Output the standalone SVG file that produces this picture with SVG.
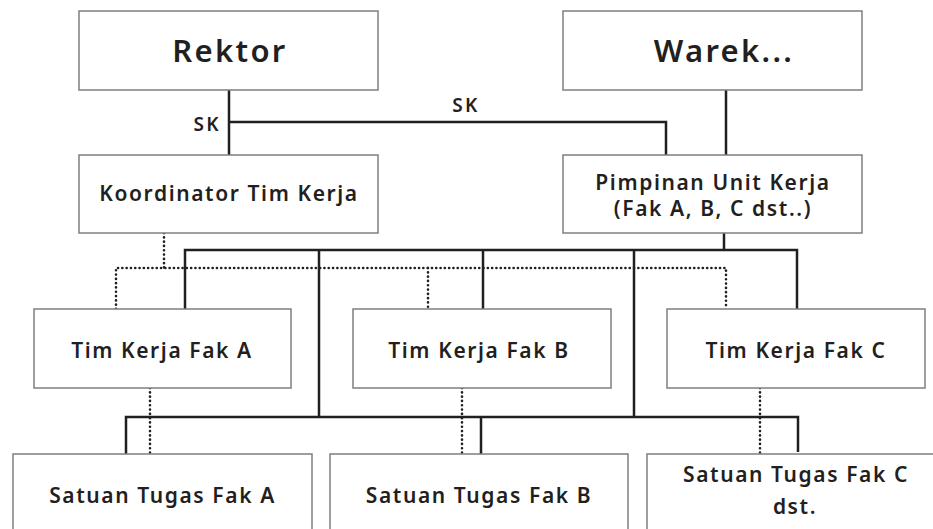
<svg xmlns="http://www.w3.org/2000/svg" width="933" height="529" viewBox="0 0 933 529">
<style>
.box{fill:#fff;stroke:#7f7f7f;stroke-width:1.5}
.t{font-family:"Noto Sans","Liberation Sans",sans-serif;font-weight:600;fill:#231f20;text-anchor:middle}
.big{font-size:31px;letter-spacing:2.3px}
.med{font-size:21px;letter-spacing:1.6px}
.sk{font-size:19px;letter-spacing:2.4px}
.solid{fill:none;stroke:#231f20;stroke-width:2.5}
.dot{fill:none;stroke:#231f20;stroke-width:2.6;stroke-dasharray:0.1 4.2;stroke-linecap:round}
</style>
<rect width="933" height="529" fill="#fff"/>
<g id="connectors">
<path class="solid" d="M229 90V155M229 122H666V155M726 90V155M724 233V250M185 309V250H797V309M319 250V417M483 250V309M634 250V417M126 454V417H798V452M481 417V454"/>
<path class="dot" d="M164 233V268M116 309V268H726V309M428 268V309M150 388V454M462 388V454M760 388V454"/>
<text class="t sk" x="221" y="131" style="text-anchor:end">SK</text>
<text class="t sk" x="466" y="112">SK</text>
</g>
<g id="rektor"><rect class="box" x="79" y="11" width="299" height="79"/><text class="t big" x="230" y="62">Rektor</text></g>
<g id="warek"><rect class="box" x="563" y="11" width="299" height="79"/><text class="t big" x="724" y="62">Warek...</text></g>
<g id="koordinator"><rect class="box" x="79" y="155" width="299" height="78"/><text class="t med" x="229" y="201">Koordinator Tim Kerja</text></g>
<g id="pimpinan"><rect class="box" x="563" y="155" width="299" height="78"/><text class="t med" x="713" y="190">Pimpinan Unit Kerja</text><text class="t med" x="713" y="216">(Fak A, B, C dst..)</text></g>
<g id="timA"><rect class="box" x="34" y="309" width="257" height="79"/><text class="t med" x="162" y="358">Tim Kerja Fak A</text></g>
<g id="timB"><rect class="box" x="353" y="309" width="258" height="79"/><text class="t med" x="479" y="358">Tim Kerja Fak B</text></g>
<g id="timC"><rect class="box" x="667" y="309" width="258" height="79"/><text class="t med" x="796" y="358">Tim Kerja Fak C</text></g>
<g id="satuanA"><rect class="box" x="13" y="454" width="299" height="90"/><text class="t med" x="162.5" y="503">Satuan Tugas Fak A</text></g>
<g id="satuanB"><rect class="box" x="330" y="454" width="298" height="90"/><text class="t med" x="479" y="503">Satuan Tugas Fak B</text></g>
<g id="satuanC"><rect class="box" x="647" y="454" width="300" height="90"/><text class="t med" x="796" y="482">Satuan Tugas Fak C</text><text class="t med" x="795" y="514">dst.</text></g>
</svg>
